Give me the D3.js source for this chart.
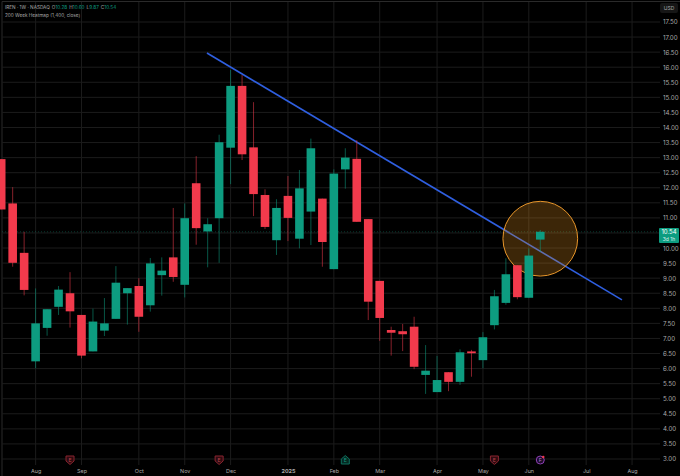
<!DOCTYPE html>
<html>
<head>
<meta charset="utf-8">
<style>
html, body { margin: 0; padding: 0; background: #000; }
svg { display: block; }
text { font-family: 'Inter', 'Liberation Sans', sans-serif; }
</style>
<script src="https://cdnjs.cloudflare.com/ajax/libs/d3/7.8.5/d3.min.js"></script>
</head>
<body>
<div id="chart"></div>
<script>
'use strict';

var opens = [12.95, 11.48, 9.84, 6.24, 7.35, 8.05, 8.50, 7.78, 6.57, 7.26, 7.65, 8.50,
    8.74, 8.10, 9.10, 9.69, 8.78, 12.15, 10.55, 10.99, 13.33, 15.38, 13.34, 11.76,
    10.26, 11.73, 10.31, 11.21, 11.64, 9.30, 12.61, 12.96, 10.96, 8.91, 7.28, 7.24,
    7.39, 5.79, 5.22, 5.88, 5.56, 6.57, 6.28, 7.44, 8.18, 9.43, 8.35, 10.28];
var highs = [12.95, 12.02, 10.54, 8.66, 7.97, 8.74, 9.20, 7.78, 7.99, 8.34, 9.40, 8.67,
    9.00, 9.67, 9.69, 11.33, 11.48, 13.05, 10.99, 13.76, 15.91, 15.74, 14.84, 11.95,
    11.62, 12.39, 12.59, 13.63, 11.64, 12.61, 13.31, 13.58, 10.96, 8.91, 7.39, 7.48,
    7.72, 6.78, 6.42, 5.88, 6.64, 6.62, 7.21, 8.61, 9.66, 9.43, 9.99, 10.60];
var lows = [11.28, 9.38, 8.43, 6.01, 7.09, 7.78, 7.36, 6.34, 6.57, 7.08, 7.65, 7.46,
    7.22, 7.89, 8.42, 8.88, 8.36, 10.11, 9.36, 9.51, 12.12, 12.92, 11.06, 10.63,
    9.77, 10.23, 9.99, 10.10, 9.38, 9.30, 11.97, 10.87, 7.61, 6.92, 6.43, 6.58,
    5.98, 5.16, 5.22, 5.25, 5.46, 5.73, 6.01, 7.30, 8.12, 8.30, 8.35, 9.87];
var closes = [11.28, 9.51, 8.61, 7.50, 7.97, 8.62, 7.90, 6.43, 7.56, 7.50, 8.85, 8.67,
    7.72, 9.49, 9.25, 9.04, 10.99, 10.66, 10.79, 13.51, 15.38, 13.11, 11.79, 10.70,
    11.33, 11.00, 11.98, 13.31, 10.20, 12.47, 13.00, 10.87, 8.22, 7.68, 7.19, 7.14,
    6.06, 5.93, 5.62, 5.56, 6.54, 6.51, 7.04, 8.40, 9.13, 8.37, 9.75, 10.54];

var priceTicks = [3, 3.5, 4, 4.5, 5, 5.5, 6, 6.5, 7, 7.5, 8, 8.5, 9, 9.5, 10, 10.5, 11,
    11.5, 12, 12.5, 13, 13.5, 14, 14.5, 15, 15.5, 16, 16.5, 17, 17.5];
var timeTickWeeks = [3, 7, 12, 16, 20, 25, 29, 33, 38, 42, 46, 51, 55];
var timeTickLabels = ['Aug', 'Sep', 'Oct', 'Nov', 'Dec', '2025', 'Feb', 'Mar', 'Apr', 'May', 'Jun', 'Jul', 'Aug'];

// trendline ends and highlighted circle, week index / price
var trendWeeks = [17.94, 54.12];
var trendPrices = [16.47, 8.28];
var circleWeek = 47;
var circlePrice = 10.31;
var circlePriceRadius = 1.24;

// events along the bottom of the chart
var eventWeeks = [6, 19, 30, 43];
var eventLabels = ['E', 'E', 'E', 'E'];
var eventKinds = ['loss', 'loss', 'gain', 'loss'];
var splitWeek = 47;

var lastPrice = 10.54;
var countdown = '3d 1h';
var legendTitle = 'IREN \u00b7 1W \u00b7 NASDAQ';
var legendStudy = '200 Week Heatmap (1,400, close)';

var width = 680, height = 476;
var GREEN = '#0d9c80', RED = '#f23a4c', GRID = '#1c1c1c', TEXT = '#a9a9a9';
var candleWidth = 8.6;

var x = d3.scaleLinear().domain([0, 58]).range([1.2, 666.46]);
var y = d3.scaleLinear().domain([3, 17.5]).range([459, 22]);

var svg = d3.select('#chart').append('svg')
    .attr('width', width)
    .attr('height', height)
    .style('background', '#000');

// chart frame
svg.append('path')
    .attr('d', 'M2,' + height + 'V1.5H' + width)
    .attr('fill', 'none')
    .attr('stroke', '#2a2a2a');

// grid
svg.append('g').selectAll('line').data(priceTicks).enter().append('line')
    .attr('x1', 2).attr('x2', 660)
    .attr('y1', function (d) { return y(d); })
    .attr('y2', function (d) { return y(d); })
    .attr('stroke', GRID);

svg.append('g').selectAll('line').data(timeTickWeeks).enter().append('line')
    .attr('x1', function (d) { return x(d); })
    .attr('x2', function (d) { return x(d); })
    .attr('y1', 2).attr('y2', 465)
    .attr('stroke', GRID);

// last price line
svg.append('line')
    .attr('x1', 2).attr('x2', 659)
    .attr('y1', y(lastPrice)).attr('y2', y(lastPrice))
    .attr('stroke', GREEN)
    .attr('stroke-opacity', 0.35)
    .attr('stroke-dasharray', '1 2');

// axes, the last price tag covers the 10.50 label
var yAxis = d3.axisRight(y)
    .tickValues(priceTicks.filter(function (d) { return d !== 10.5; }))
    .tickSize(0).tickPadding(0).tickFormat(d3.format('.2f'));
var gy = svg.append('g').attr('transform', 'translate(663,0)').call(yAxis);
gy.select('.domain').remove();
gy.selectAll('text').attr('fill', TEXT).style('font-size', '6.2px').style('font-family', 'Inter');

var xAxis = d3.axisBottom(x).tickValues(timeTickWeeks).tickSize(0).tickPadding(0)
    .tickFormat(function (d, i) { return timeTickLabels[i]; });
var gx = svg.append('g').attr('transform', 'translate(0,469.5)').call(xAxis);
gx.select('.domain').remove();
gx.selectAll('text').attr('fill', TEXT).style('font-size', '5.4px').style('font-family', 'Inter');
gx.selectAll('text').filter(function (d, i) { return timeTickLabels[i] === '2025'; })
    .style('font-weight', 700);

// trendline sits under the circle, the tint greys it
svg.append('line')
    .attr('x1', x(trendWeeks[0])).attr('y1', y(trendPrices[0]))
    .attr('x2', x(trendWeeks[1])).attr('y2', y(trendPrices[1]))
    .attr('stroke', '#2f5fe0')
    .attr('stroke-width', 1.6);

// highlight circle
svg.append('circle')
    .attr('cx', x(circleWeek))
    .attr('cy', y(circlePrice))
    .attr('r', y(circlePrice) - y(circlePrice + circlePriceRadius))
    .attr('fill', '#f0961e')
    .attr('fill-opacity', 0.25)
    .attr('stroke', '#e8962a')
    .attr('stroke-width', 1);

// candles
var weeks = d3.range(opens.length);
function candleColor(i) { return closes[i] >= opens[i] ? GREEN : RED; }

svg.append('g').selectAll('line').data(weeks).enter().append('line')
    .attr('x1', function (i) { return x(i); })
    .attr('x2', function (i) { return x(i); })
    .attr('y1', function (i) { return y(highs[i]); })
    .attr('y2', function (i) { return y(lows[i]); })
    .attr('stroke', candleColor)
    .attr('stroke-opacity', 0.55)
    .attr('stroke-width', 1);

svg.append('g').selectAll('rect').data(weeks).enter().append('rect')
    .attr('x', function (i) { return x(i) - candleWidth / 2; })
    .attr('y', function (i) { return y(Math.max(opens[i], closes[i])); })
    .attr('width', candleWidth)
    .attr('height', function (i) { return Math.max(1.5, Math.abs(y(opens[i]) - y(closes[i]))); })
    .attr('fill', candleColor);

// event badges
var badges = svg.append('g').selectAll('g').data(eventWeeks).enter().append('g')
    .attr('transform', function (d) { return 'translate(' + x(d) + ',460)'; });
badges.append('path')
    .attr('d', function (d, i) {
        return eventKinds[i] === 'loss' ? 'M-4,-4H4V1L0,4.5L-4,1Z' : 'M0,-4.5L4,-1V4H-4V-1Z';
    })
    .attr('fill', function (d, i) { return eventKinds[i] === 'loss' ? '#2e0a0f' : '#052822'; })
    .attr('stroke', function (d, i) { return eventKinds[i] === 'loss' ? '#8a2530' : '#0d6f5c'; });
badges.append('text')
    .attr('text-anchor', 'middle')
    .attr('y', 2)
    .attr('fill', function (d, i) { return eventKinds[i] === 'loss' ? '#b8434f' : '#159c82'; })
    .style('font-size', '5.2px')
    .text(function (d, i) { return eventLabels[i]; });

var split = svg.append('g').attr('transform', 'translate(' + x(splitWeek) + ',460)');
split.append('circle').attr('r', 4).attr('fill', '#1e0b2a').attr('stroke', '#8e3fb5');
split.append('text').attr('text-anchor', 'middle').attr('y', 2)
    .attr('fill', '#b07ccc').style('font-size', '5.2px').text('F');
split.append('circle').attr('cx', 3).attr('cy', -3).attr('r', 1.2).attr('fill', '#f23a4c');

// legend
var legend = svg.append('text').attr('x', 5).attr('y', 8.5)
    .attr('fill', TEXT).style('font-size', '4.7px');
legend.append('tspan').text(legendTitle);
[['O', opens], ['H', highs], ['L', lows], ['C', closes]].forEach(function (p) {
    legend.append('tspan').attr('dx', 2).text(p[0]);
    legend.append('tspan').attr('fill', GREEN).text(d3.format('.2f')(p[1][p[1].length - 1]));
});
svg.append('text').attr('x', 5).attr('y', 16.5)
    .attr('fill', TEXT).style('font-size', '4.7px').text(legendStudy);

// currency tag
svg.append('rect').attr('x', 660).attr('y', 3).attr('width', 18).attr('height', 10).attr('rx', 2)
    .attr('fill', '#161616');
svg.append('text').attr('x', 669).attr('y', 10).attr('text-anchor', 'middle')
    .attr('fill', TEXT).style('font-size', '5px').text('USD');

// last price tag
svg.append('rect').attr('x', 659).attr('y', y(lastPrice) - 3.7).attr('width', 20).attr('height', 15)
    .attr('rx', 1).attr('fill', GREEN);
svg.append('text').attr('x', 669).attr('y', y(lastPrice) + 2.6).attr('text-anchor', 'middle')
    .attr('fill', '#fff').style('font-size', '6px').text(d3.format('.2f')(lastPrice));
svg.append('text').attr('x', 669).attr('y', y(lastPrice) + 9.4).attr('text-anchor', 'middle')
    .attr('fill', '#d5efe9').style('font-size', '5px').text(countdown);
</script>
</body>
</html>
